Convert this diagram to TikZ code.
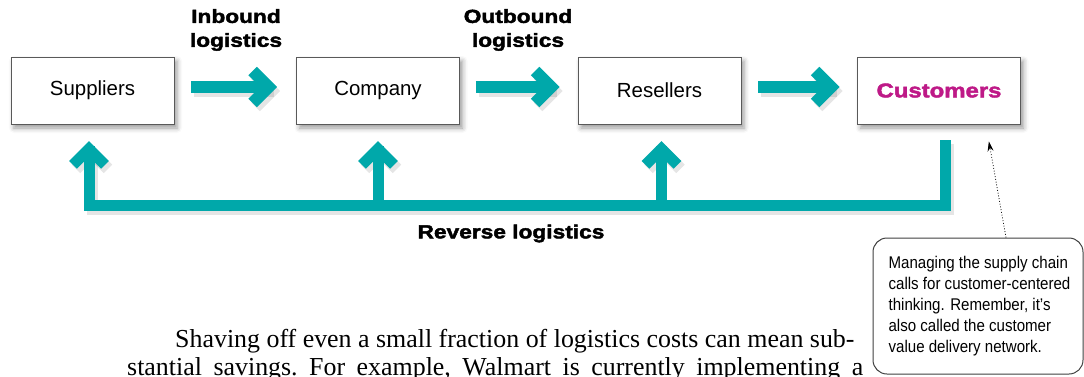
\documentclass[tikz,border=0pt]{standalone}
\usepackage{fontspec}
\setmainfont{Liberation Sans}
\newfontfamily\heavy[FakeBold=2.2,FakeStretch=1.2]{Liberation Sans Bold}
\newfontfamily\cond[FakeStretch=0.89]{Liberation Sans}
\newfontfamily\bookserif{Liberation Serif}
\usetikzlibrary{calc,shadows.blur,arrows.meta}
\definecolor{revteal}{RGB}{0,168,170}
\definecolor{custmag}{RGB}{190,25,135}
\newcommand\fatright[2]{%
  \draw[fatsh] ($(#1)+(3,4)$) -- ($(#2)+(-3,4)$);
  \draw[fatsh] ($(#2)+(-21.5,-12)$) -- ($(#2)+(-5.5,4)$) -- ($(#2)+(-21.5,20)$);
  \draw[fat] (#1) -- ($(#2)+(-6,0)$);
  \draw[fat] ($(#2)+(-24.5,-16)$) -- ($(#2)+(-8.5,0)$) -- ($(#2)+(-24.5,16)$);
}
\newcommand\fatup[2]{%
  \draw[fat] (#1) -- ($(#2)+(0,6)$);
  \draw[fat] ($(#2)+(-16,24.5)$) -- ($(#2)+(0,8.5)$) -- ($(#2)+(16,24.5)$);
}
\newcommand\fatupsh[1]{%
  \draw[fatsh] ($(#1)+(-13,28.5)$) -- ($(#1)+(3,12.5)$) -- ($(#1)+(19,28.5)$);
}
\begin{document}
\begin{tikzpicture}[x=1bp,y=-1bp,
  fat/.style={draw=revteal,line width=12bp,line join=miter,line cap=butt},
  fatsh/.style={draw=black,opacity=0.1,line width=12bp,line join=miter,line cap=butt},
  box/.style={draw=black!65,line width=0.7bp,fill=white,minimum width=163bp,
    minimum height=67bp,inner sep=0pt,font=\fontsize{20.5}{24}\selectfont,
    blur shadow={shadow xshift=3bp,shadow yshift=-4bp,shadow blur radius=5bp}},
  lbl/.style={font=\heavy\fontsize{19}{24}\selectfont,align=center,inner sep=0pt},
  callout/.style={draw=black!75,line width=1bp,rounded corners=14bp,fill=white,
    minimum width=210bp,minimum height=136bp,align=left,
    font=\cond\fontsize{17}{21}\selectfont},
  body/.style={anchor=base west,inner sep=0pt,font=\bookserif\frenchspacing\fontsize{26}{27}\selectfont}]
\useasboundingbox (0,0) rectangle (1084,376);
\clip (0,0) rectangle (1084,376);

\node[box] (sup) at (92.5,90.5) {Suppliers};
\node[box] (comp) at (378,90.5) {Company};
\node[box] (res) at (659.5,90.5) {Resellers};
\node[box,font=\heavy\fontsize{20}{24}\selectfont,text=custmag] (cust) at (939,90.5) {Customers};

% forward flows
\coordinate (a1) at ($(sup.east)+(17,-3.5)$);
\coordinate (t1) at ($(comp.west)+(-19,-3.5)$);
\coordinate (a2) at ($(comp.east)+(16,-3.5)$);
\coordinate (t2) at ($(res.west)+(-18,-3.5)$);
\coordinate (a3) at ($(res.east)+(17,-3.5)$);
\coordinate (t3) at ($(cust.west)+(-17.5,-3.5)$);
\fatright{a1}{t1}
\fatright{a2}{t2}
\fatright{a3}{t3}

% reverse logistics
\coordinate (rtop) at ($(cust.south)+(6,16)$);
\coordinate (stip) at ($(sup.south)+(-3.5,16)$);
\coordinate (ctip) at ($(comp.south)+(0,16)$);
\coordinate (ltip) at ($(res.south)+(2,16)$);
\coordinate (bar) at (0,205.5);
\coordinate (barsh) at (0,209.5);
\draw[fatsh,line width=11bp] ($(rtop)+(3,4)$) -- ($(rtop |- barsh)+(3,0)$) -- ($(stip |- barsh)+(3,0)$) -- ($(stip)+(3,10)$);
\fatupsh{stip}
\fatupsh{ctip}
\fatupsh{ltip}
\draw[fat,line width=11bp] (rtop) -- (rtop |- bar) -- (stip |- bar) -- ($(stip)+(0,6)$);
\draw[fat,line width=11bp] ($(stip)+(-16,24.5)$) -- ($(stip)+(0,8.5)$) -- ($(stip)+(16,24.5)$);
\begin{scope}[fat/.append style={line width=11bp}]
\fatup{ctip |- bar}{ctip}
\fatup{ltip |- bar}{ltip}
\end{scope}

\node[lbl] (inl) at (236,30) {Inbound\\logistics};
\node[lbl] (outl) at (518,30) {Outbound\\logistics};
\node[lbl] (revl) at (511,233.5) {Reverse logistics};

% callout
\node[callout] (call) at (978,306) {\hspace*{3bp}Managing the supply chain\\\hspace*{3bp}calls for customer-centered\\\hspace*{3bp}thinking. Remember, it’s\\\hspace*{3bp}also called the customer\\\hspace*{3bp}value delivery network.};
\coordinate (dtip) at ($(cust.south east)+(-32,17)$);
\draw[black,dotted,line width=0.8bp,-{Stealth[length=10bp,width=6bp]}] ($(call.north)+(28,0)$) -- (dtip);

% body text
\node[body] (p1) at (175,347)
  {Shaving off even a small fraction of logistics costs can mean sub-};
\node[body] (p2) at (127,375)
  {\makebox[736bp][s]{stantial savings. For example, Walmart is currently implementing a}};
\end{tikzpicture}
\end{document}
